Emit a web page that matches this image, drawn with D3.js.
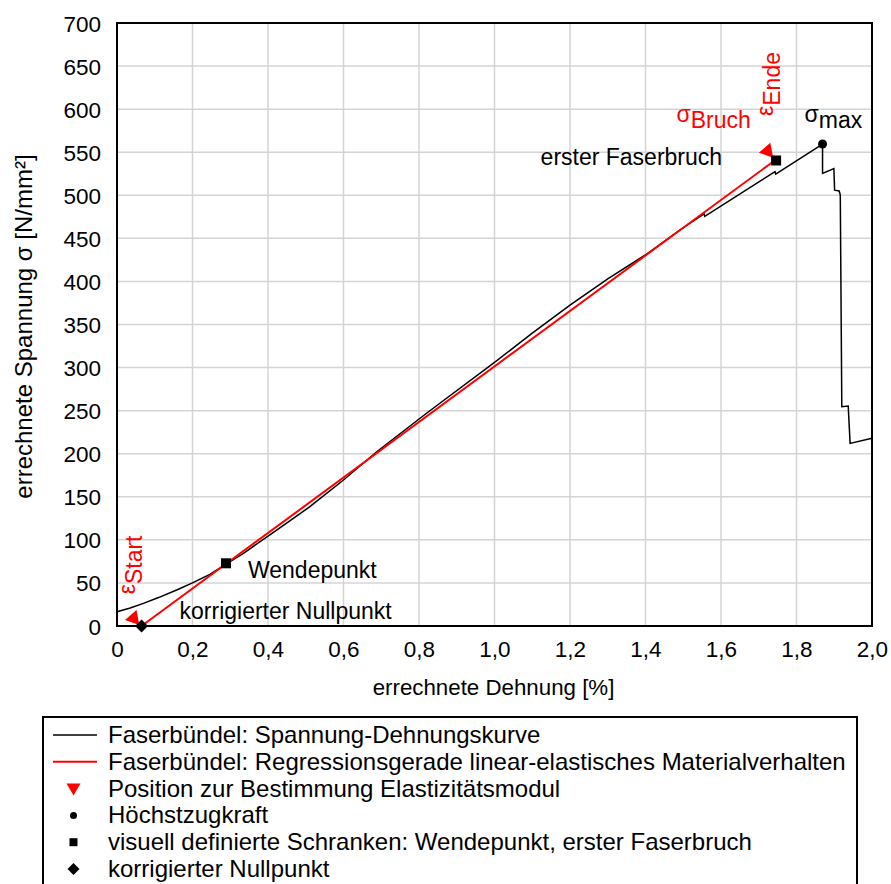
<!DOCTYPE html>
<html>
<head>
<meta charset="utf-8">
<script src="https://cdn.jsdelivr.net/npm/d3@7"></script>
<style>
  body { margin: 0; background: #fff; }
  svg { font-family: 'Liberation Sans', Arial, sans-serif; }
</style>
</head>
<body>
<svg id="chart" width="891" height="884"></svg>
<script>
// stress-strain curve of the fibre bundle
const strain = [0, 0.035, 0.07, 0.11, 0.158, 0.2, 0.246, 0.29, 0.335, 0.423, 0.511, 0.6, 0.688,
  0.82, 1.0, 1.1, 1.2, 1.3, 1.403, 1.491, 1.555, 1.557, 1.743, 1.745, 1.869, 1.869, 1.899, 1.901,
  1.913, 1.916, 1.92, 1.937, 1.942, 2.0];
const stress = [16.6, 21, 26.3, 33, 41.8, 50, 60, 72, 84.4, 111.4, 138.5, 169.5, 202.3,
  247, 306, 340, 372.6, 403, 431.8, 459.7, 478.5, 475.5, 527.4, 524.7, 559.5, 525.5, 531, 506,
  505, 500.4, 254.6, 255.4, 212, 218];

// regression line (linear elastic)
const regStrain = [0.065, 1.738];
const regStress = [0, 539];

// markers
const triStrain = [0.044, 1.723];
const triStress = [8.9, 551.4];
const maxStrain = [1.869];
const maxStress = [559.5];
const boundStrain = [0.2887, 1.746];
const boundStress = [72.8, 540.4];
const zeroStrain = [0.065];
const zeroStress = [0];

const xTicks = [0, 0.2, 0.4, 0.6, 0.8, 1.0, 1.2, 1.4, 1.6, 1.8, 2.0];
const yTicks = [0, 50, 100, 150, 200, 250, 300, 350, 400, 450, 500, 550, 600, 650, 700];

const legendLabels = [
  'Faserbündel: Spannung-Dehnungskurve',
  'Faserbündel: Regressionsgerade linear-elastisches Materialverhalten',
  'Position zur Bestimmung Elastizitätsmodul',
  'Höchstzugkraft',
  'visuell definierte Schranken: Wendepunkt, erster Faserbruch',
  'korrigierter Nullpunkt'
];

const svg = d3.select('#chart');
const margin = { left: 117, top: 23, right: 19 },
  plotBottom = 626;
const width = 891 - margin.left - margin.right,
  height = plotBottom - margin.top;

const x = d3.scaleLinear().domain([0, 2]).range([0, width]);
const y = d3.scaleLinear().domain([0, 700]).range([height, 0]);
const fmt = (d) => (d === 0 ? '0' : d.toFixed(1).replace('.', ','));

const g = svg.append('g').attr('transform', `translate(${margin.left},${margin.top})`);

// grid
g.append('g')
  .selectAll('line.vx')
  .data(xTicks)
  .enter()
  .append('line')
  .attr('x1', (d) => x(d))
  .attr('x2', (d) => x(d))
  .attr('y1', 0)
  .attr('y2', height)
  .attr('stroke', '#d4d4d4')
  .attr('stroke-width', 1.5);
g.append('g')
  .selectAll('line.hy')
  .data(yTicks)
  .enter()
  .append('line')
  .attr('x1', 0)
  .attr('x2', width)
  .attr('y1', (d) => y(d))
  .attr('y2', (d) => y(d))
  .attr('stroke', '#d4d4d4')
  .attr('stroke-width', 1.5);

// axes (labels only, frame drawn as a rect)
const xAxis = g
  .append('g')
  .attr('transform', `translate(0,${height})`)
  .call(d3.axisBottom(x).tickValues(xTicks).tickFormat(fmt).tickSize(0).tickPadding(15));
const yAxis = g
  .append('g')
  .call(d3.axisLeft(y).tickValues(yTicks).tickSize(0).tickPadding(16));
[xAxis, yAxis].forEach((a) => {
  a.select('.domain').remove();
  a.selectAll('text').attr('font-size', 22.5).attr('fill', '#000').attr('font-family', null);
});
xAxis.selectAll('text').attr('dy', null).attr('y', 31);
yAxis.selectAll('text').attr('dy', 8);

g.append('rect')
  .attr('width', width)
  .attr('height', height)
  .attr('fill', 'none')
  .attr('stroke', '#000')
  .attr('stroke-width', 2);

// axis titles
svg.append('text')
  .attr('x', margin.left + width / 2 - 1)
  .attr('y', 695)
  .attr('text-anchor', 'middle')
  .attr('font-size', 22.3)
  .text('errechnete Dehnung [%]');
svg.append('text')
  .attr('transform', `translate(32,${margin.top + height / 2 + 2}) rotate(-90)`)
  .attr('text-anchor', 'middle')
  .attr('font-size', 24)
  .text('errechnete Spannung σ [N/mm²]');

// curves
const line = d3.line().x((d) => x(d[0])).y((d) => y(d[1]));
g.append('path')
  .datum(d3.zip(strain, stress))
  .attr('d', line)
  .attr('fill', 'none')
  .attr('stroke', '#000')
  .attr('stroke-width', 1.5);
g.append('path')
  .datum(d3.zip(regStrain, regStress))
  .attr('d', line)
  .attr('fill', 'none')
  .attr('stroke', '#ff0000')
  .attr('stroke-width', 2);

// markers
const triPath = d3.symbol().type(d3.symbolTriangle).size(100)();
g.selectAll('path.tri')
  .data(d3.zip(triStrain, triStress))
  .enter()
  .append('path')
  .attr('d', triPath)
  .attr('transform', (d) => `translate(${x(d[0])},${y(d[1])}) rotate(-101)`)
  .attr('fill', '#ff0000');
g.selectAll('rect.bound')
  .data(d3.zip(boundStrain, boundStress))
  .enter()
  .append('rect')
  .attr('x', (d) => x(d[0]) - 5)
  .attr('y', (d) => y(d[1]) - 5)
  .attr('width', 10)
  .attr('height', 10)
  .attr('fill', '#000');
g.selectAll('circle.max')
  .data(d3.zip(maxStrain, maxStress))
  .enter()
  .append('circle')
  .attr('cx', (d) => x(d[0]))
  .attr('cy', (d) => y(d[1]))
  .attr('r', 4.5)
  .attr('fill', '#000');
g.selectAll('path.zero')
  .data(d3.zip(zeroStrain, zeroStress))
  .enter()
  .append('path')
  .attr('d', 'M0,-6.5L6.5,0L0,6.5L-6.5,0Z')
  .attr('transform', (d) => `translate(${x(d[0])},${y(d[1])})`)
  .attr('fill', '#000');

// annotations
const ann = (px, py, color, parts, rotate) => {
  const t = g
    .append('text')
    .attr('transform', `translate(${px},${py})` + (rotate ? ' rotate(-90)' : ''))
    .attr('font-size', 23)
    .attr('fill', color);
  parts.forEach((p) => t.append('tspan').attr('dy', p[1]).text(p[0]));
  return t;
};
const tx1 = x(triStrain[1]), ty1 = y(triStress[1]);
ann(tx1 - 91, ty1 - 29, '#ff0000', [['σ', 0], ['Bruch', 6]]);
ann(tx1 + 12.5, ty1 - 35, '#ff0000', [['ε', -7], ['Ende', 7]], true);
const tx0 = x(triStrain[0]), ty0 = y(triStress[0]);
ann(tx0 + 8, ty0 - 24, '#ff0000', [['ε', -7], ['Start', 7]], true);
ann(x(maxStrain[0]) - 18, y(maxStress[0]) - 22, '#000', [['σ', 0], ['max', 6]]);
ann(x(boundStrain[1]) - 54, y(boundStress[1]) + 4.5, '#000', [['erster Faserbruch', 0]]).attr(
  'text-anchor',
  'end'
);
ann(x(boundStrain[0]) + 22, y(boundStress[0]) + 15, '#000', [['Wendepunkt', 0]]);
ann(x(zeroStrain[0]) + 38, y(zeroStress[0]) - 7, '#000', [['korrigierter Nullpunkt', 0]]);

// legend
const legend = svg.append('g');
legend
  .append('rect')
  .attr('x', 43)
  .attr('y', 717)
  .attr('width', 814)
  .attr('height', 200)
  .attr('fill', '#fff')
  .attr('stroke', '#000')
  .attr('stroke-width', 2);
const rowY = (i) => 735 + i * 26.8;
legend
  .selectAll('text')
  .data(legendLabels)
  .enter()
  .append('text')
  .attr('x', 108)
  .attr('y', (d, i) => rowY(i) + 8)
  .attr('font-size', 24)
  .text((d) => d);
legend.append('line').attr('x1', 53).attr('x2', 97).attr('y1', rowY(0)).attr('y2', rowY(0))
  .attr('stroke', '#000').attr('stroke-width', 1.5);
legend.append('line').attr('x1', 53).attr('x2', 97).attr('y1', rowY(1)).attr('y2', rowY(1))
  .attr('stroke', '#ff0000').attr('stroke-width', 2);
legend.append('path').attr('d', 'M-7,-5L7,-5L0,7Z')
  .attr('transform', `translate(73.5,${rowY(2)})`).attr('fill', '#ff0000');
legend.append('circle').attr('cx', 73.5).attr('cy', rowY(3)).attr('r', 3.5).attr('fill', '#000');
legend.append('rect').attr('x', 69.5).attr('y', rowY(4) - 4).attr('width', 8).attr('height', 8)
  .attr('fill', '#000');
legend.append('path').attr('d', 'M0,-6L6,0L0,6L-6,0Z')
  .attr('transform', `translate(73.5,${rowY(5)})`).attr('fill', '#000');
</script>
</body>
</html>
